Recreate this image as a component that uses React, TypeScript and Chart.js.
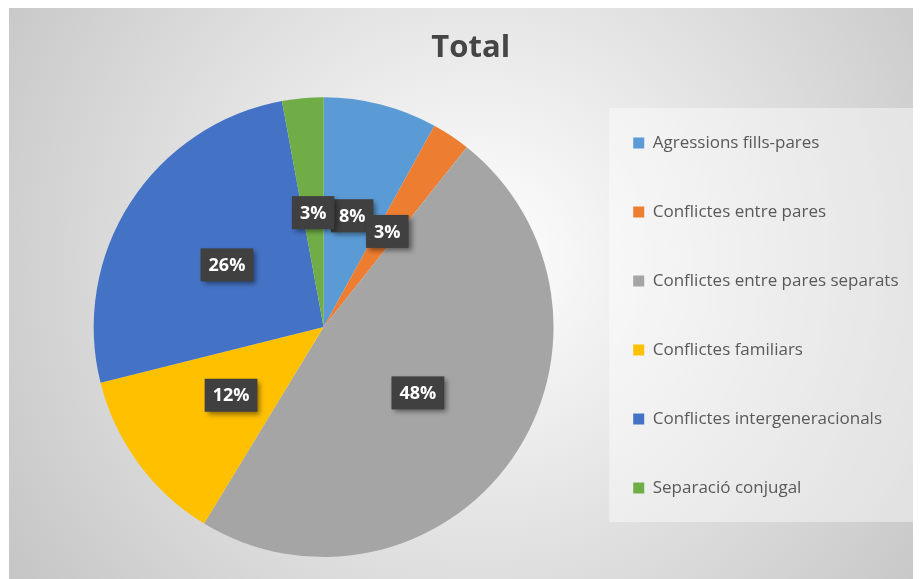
import React, { useEffect, useRef } from 'react';
import { Chart, registerables } from 'chart.js';

Chart.register(...registerables);

const titleText = 'Total';
const categories = [
  'Agressions fills-pares',
  'Conflictes entre pares',
  'Conflictes entre pares separats',
  'Conflictes familiars',
  'Conflictes intergeneracionals',
  'Separació conjugal',
];
const shares = [8.0, 2.7, 48.0, 12.4, 26.0, 2.9];
const colors = ['#5B9BD5', '#ED7D31', '#A5A5A5', '#FFC000', '#4472C4', '#70AD47'];

const FONT = '"Open Sans", "DejaVu Sans", sans-serif';

const backgroundPlugin = {
  id: 'excelBackground',
  beforeDraw(chart: any) {
    const { ctx, width, height } = chart;
    ctx.save();
    const g = ctx.createRadialGradient(470, 250, 0, 470, 250, 560);
    g.addColorStop(0, '#ffffff');
    g.addColorStop(1, '#c6c6c6');
    ctx.fillStyle = g;
    ctx.fillRect(0, 0, width, height);
    ctx.strokeStyle = '#bdbdbd';
    ctx.lineWidth = 1;
    ctx.beginPath();
    ctx.moveTo(0, 0.5);
    ctx.lineTo(width, 0.5);
    ctx.stroke();
    const lg = chart.legend;
    if (lg) {
      ctx.fillStyle = 'rgba(255,255,255,0.42)';
      ctx.fillRect(lg.left - 5, 101, 308, 414);
    }
    ctx.restore();
  },
};

const labelPlugin = {
  id: 'pctLabels',
  afterDatasetsDraw(chart: any) {
    const { ctx } = chart;
    const meta = chart.getDatasetMeta(0);
    const data = chart.data.datasets[0].data as number[];
    const total = data.reduce((a, b) => a + b, 0);
    ctx.save();
    ctx.font = `bold 18px ${FONT}`;
    meta.data.forEach((arc: any, i: number) => {
      const p = arc.getCenterPoint();
      const txt = `${Math.round((data[i] / total) * 100)}%`;
      const tw = ctx.measureText(txt).width;
      const w = tw + 16;
      const h = 33;
      ctx.save();
      ctx.shadowColor = 'rgba(0,0,0,0.45)';
      ctx.shadowBlur = 5;
      ctx.shadowOffsetX = 3;
      ctx.shadowOffsetY = 3;
      ctx.fillStyle = '#404040';
      ctx.fillRect(p.x - w / 2, p.y - h / 2, w, h);
      ctx.restore();
      ctx.fillStyle = '#ffffff';
      ctx.textAlign = 'center';
      ctx.textBaseline = 'middle';
      ctx.fillText(txt, p.x, p.y + 1);
    });
    ctx.restore();
  },
};

export default function App() {
  const ref = useRef<HTMLCanvasElement>(null);
  useEffect(() => {
    if (!ref.current) return;
    const baseGen = (Chart as any).overrides.pie.plugins.legend.labels.generateLabels;
    const chart = new Chart(ref.current, {
      type: 'pie',
      data: {
        labels: categories,
        datasets: [
          {
            data: shares,
            backgroundColor: colors,
            borderWidth: 0,
          },
        ],
      },
      options: {
        responsive: false,
        animation: false,
        layout: { padding: { left: 24, right: 12.5, top: 0, bottom: 22 } },
        plugins: {
          tooltip: { enabled: false },
          title: {
            display: true,
            text: titleText,
            color: '#454545',
            font: { family: FONT, size: 31, weight: 'bold' },
            padding: { top: 23, bottom: 30 },
          },
          legend: {
            display: true,
            position: 'right',
            align: 'start',
            title: { display: true, text: '', font: { size: 10 }, padding: { top: 96.5, bottom: 0 } },
            labels: {
              boxWidth: 11,
              boxHeight: 11,
              padding: 19,
              color: '#595959',
              font: { family: FONT, size: 17, lineHeight: '50px' } as any,
              generateLabels: (c: any) =>
                baseGen(c).map((l: any) => ({ ...l, text: [l.text], lineWidth: 0 })),
            },
          },
        },
      } as any,
      plugins: [backgroundPlugin, labelPlugin],
    });
    return () => chart.destroy();
  }, []);
  return (
    <div style={{ marginLeft: 1, marginTop: -1, width: 912, height: 572 }}>
      <canvas ref={ref} width={912} height={572} />
    </div>
  );
}
